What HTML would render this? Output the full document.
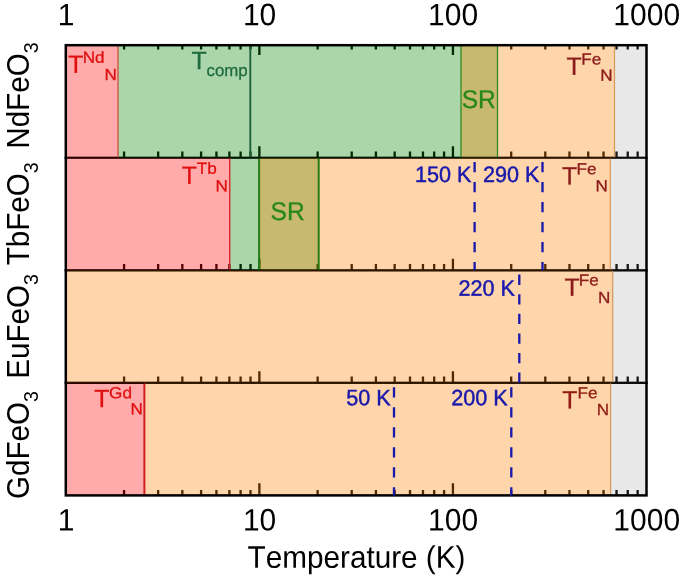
<!DOCTYPE html><html><head><meta charset="utf-8"><title>Phase diagram</title><style>html,body{margin:0;padding:0;background:#fff}svg{display:block}</style></head><body><svg width="685" height="577" viewBox="0 0 685 577" style="font-kerning:none" font-family='"Liberation Sans", Arial, Helvetica, sans-serif'>
<rect width="685" height="577" fill="#fff"/>
<g stroke="#000" stroke-width="2.2" fill="none">
<line x1="64.6" y1="157.75" x2="647.7" y2="157.75"/>
<line x1="64.6" y1="270.30" x2="647.7" y2="270.30"/>
<line x1="64.6" y1="382.85" x2="647.7" y2="382.85"/>
</g>
<path d="M124.07 45.2V49.6M124.07 157.75v-6.3M124.07 270.30v-6.3M124.07 382.85v-6.3M124.07 495.4V490.05M158.15 45.2V49.6M158.15 157.75v-6.3M158.15 270.30v-6.3M158.15 382.85v-6.3M158.15 495.4V490.05M182.34 45.2V49.6M182.34 157.75v-6.3M182.34 270.30v-6.3M182.34 382.85v-6.3M182.34 495.4V490.05M201.10 45.2V49.6M201.10 157.75v-6.3M201.10 270.30v-6.3M201.10 382.85v-6.3M201.10 495.4V490.05M216.42 45.2V49.6M216.42 157.75v-6.3M216.42 270.30v-6.3M216.42 382.85v-6.3M216.42 495.4V490.05M229.38 45.2V49.6M229.38 157.75v-6.3M229.38 270.30v-6.3M229.38 382.85v-6.3M229.38 495.4V490.05M240.61 45.2V49.6M240.61 157.75v-6.3M240.61 270.30v-6.3M240.61 382.85v-6.3M240.61 495.4V490.05M250.51 45.2V49.6M250.51 157.75v-6.3M250.51 270.30v-6.3M250.51 382.85v-6.3M250.51 495.4V490.05M259.37 45.2V55.1M259.37 157.75v-11.6M259.37 270.30v-11.6M259.37 382.85v-11.6M259.37 495.4V483.3M317.64 45.2V49.6M317.64 157.75v-6.3M317.64 270.30v-6.3M317.64 382.85v-6.3M317.64 495.4V490.05M351.72 45.2V49.6M351.72 157.75v-6.3M351.72 270.30v-6.3M351.72 382.85v-6.3M351.72 495.4V490.05M375.91 45.2V49.6M375.91 157.75v-6.3M375.91 270.30v-6.3M375.91 382.85v-6.3M375.91 495.4V490.05M394.66 45.2V49.6M394.66 157.75v-6.3M394.66 270.30v-6.3M394.66 382.85v-6.3M394.66 495.4V490.05M409.99 45.2V49.6M409.99 157.75v-6.3M409.99 270.30v-6.3M409.99 382.85v-6.3M409.99 495.4V490.05M422.95 45.2V49.6M422.95 157.75v-6.3M422.95 270.30v-6.3M422.95 382.85v-6.3M422.95 495.4V490.05M434.17 45.2V49.6M434.17 157.75v-6.3M434.17 270.30v-6.3M434.17 382.85v-6.3M434.17 495.4V490.05M444.08 45.2V49.6M444.08 157.75v-6.3M444.08 270.30v-6.3M444.08 382.85v-6.3M444.08 495.4V490.05M452.93 45.2V55.1M452.93 157.75v-11.6M452.93 270.30v-11.6M452.93 382.85v-11.6M452.93 495.4V483.3M511.20 45.2V49.6M511.20 157.75v-6.3M511.20 270.30v-6.3M511.20 382.85v-6.3M511.20 495.4V490.05M545.29 45.2V49.6M545.29 157.75v-6.3M545.29 270.30v-6.3M545.29 382.85v-6.3M545.29 495.4V490.05M569.47 45.2V49.6M569.47 157.75v-6.3M569.47 270.30v-6.3M569.47 382.85v-6.3M569.47 495.4V490.05M588.23 45.2V49.6M588.23 157.75v-6.3M588.23 270.30v-6.3M588.23 382.85v-6.3M588.23 495.4V490.05M603.56 45.2V49.6M603.56 157.75v-6.3M603.56 270.30v-6.3M603.56 382.85v-6.3M603.56 495.4V490.05M616.52 45.2V49.6M616.52 157.75v-6.3M616.52 270.30v-6.3M616.52 382.85v-6.3M616.52 495.4V490.05M627.74 45.2V49.6M627.74 157.75v-6.3M627.74 270.30v-6.3M627.74 382.85v-6.3M627.74 495.4V490.05M637.64 45.2V49.6M637.64 157.75v-6.3M637.64 270.30v-6.3M637.64 382.85v-6.3M637.64 495.4V490.05" stroke="#000" stroke-width="2.3" fill="none"/>
<rect shape-rendering="crispEdges" x="66" y="45" width="52" height="113" fill="rgba(255,0,0,0.33)"/>
<rect shape-rendering="crispEdges" x="118" y="45" width="343" height="113" fill="rgba(0,128,0,0.33)"/>
<rect shape-rendering="crispEdges" x="461" y="45" width="37" height="113" fill="rgba(157,130,0,0.56)"/>
<rect shape-rendering="crispEdges" x="498" y="45" width="117" height="113" fill="rgba(255,128,0,0.33)"/>
<rect shape-rendering="crispEdges" x="615" y="45" width="31" height="113" fill="rgba(128,128,128,0.18)"/>
<rect shape-rendering="crispEdges" x="66" y="158" width="164" height="112" fill="rgba(255,0,0,0.33)"/>
<rect shape-rendering="crispEdges" x="230" y="158" width="29" height="112" fill="rgba(0,128,0,0.33)"/>
<rect shape-rendering="crispEdges" x="259" y="158" width="60" height="112" fill="rgba(157,130,0,0.56)"/>
<rect shape-rendering="crispEdges" x="319" y="158" width="291" height="112" fill="rgba(255,128,0,0.33)"/>
<rect shape-rendering="crispEdges" x="610" y="158" width="36" height="112" fill="rgba(128,128,128,0.18)"/>
<rect shape-rendering="crispEdges" x="66" y="270" width="547" height="113" fill="rgba(255,128,0,0.33)"/>
<rect shape-rendering="crispEdges" x="613" y="270" width="33" height="113" fill="rgba(128,128,128,0.18)"/>
<rect shape-rendering="crispEdges" x="66" y="383" width="78" height="112" fill="rgba(255,0,0,0.33)"/>
<rect shape-rendering="crispEdges" x="144" y="383" width="467" height="112" fill="rgba(255,128,0,0.33)"/>
<rect shape-rendering="crispEdges" x="611" y="383" width="35" height="112" fill="rgba(128,128,128,0.18)"/>
<line x1="118.00" y1="45.20" x2="118.00" y2="157.75" stroke="#c8503c" stroke-width="1.3" />
<line x1="250.30" y1="45.20" x2="250.30" y2="157.75" stroke="#1f5f3a" stroke-width="1.9" />
<line x1="461.00" y1="45.20" x2="461.00" y2="157.75" stroke="#2f8a1f" stroke-width="1.3" />
<line x1="497.50" y1="45.20" x2="497.50" y2="157.75" stroke="#2f8a1f" stroke-width="1.3" />
<line x1="614.50" y1="45.20" x2="614.50" y2="157.75" stroke="#d8985a" stroke-width="1.2" />
<line x1="229.70" y1="157.75" x2="229.70" y2="270.30" stroke="#d83030" stroke-width="1.5" />
<line x1="259.10" y1="157.75" x2="259.10" y2="270.30" stroke="#237d14" stroke-width="2" />
<line x1="318.70" y1="157.75" x2="318.70" y2="270.30" stroke="#237d14" stroke-width="2" />
<line x1="610.30" y1="157.75" x2="610.30" y2="270.30" stroke="#d8985a" stroke-width="1.2" />
<line x1="612.70" y1="270.30" x2="612.70" y2="382.85" stroke="#d8985a" stroke-width="1.2" />
<line x1="144.40" y1="382.85" x2="144.40" y2="495.40" stroke="#d02020" stroke-width="2" />
<line x1="610.60" y1="382.85" x2="610.60" y2="495.40" stroke="#d8985a" stroke-width="1.2" />
<g stroke="rgba(0,0,0,0.5)" stroke-width="2" fill="none">
<line x1="65.8" y1="157.75" x2="646.5" y2="157.75"/>
<line x1="65.8" y1="270.30" x2="646.5" y2="270.30"/>
<line x1="65.8" y1="382.85" x2="646.5" y2="382.85"/>
</g>
<rect x="65.8" y="45.2" width="580.7" height="450.2" stroke="#000" stroke-width="2.5" fill="none"/>
<line x1="474.60" y1="162.00" x2="474.60" y2="270.30" stroke="#1818ac" stroke-width="2.3" stroke-dasharray="10.3 9.7"/>
<line x1="542.50" y1="162.00" x2="542.50" y2="270.30" stroke="#1818ac" stroke-width="2.3" stroke-dasharray="10.3 9.7"/>
<line x1="519.30" y1="274.60" x2="519.30" y2="382.85" stroke="#1818ac" stroke-width="2.3" stroke-dasharray="10.3 9.3"/>
<line x1="394.00" y1="387.20" x2="394.00" y2="495.40" stroke="#1818ac" stroke-width="2.3" stroke-dasharray="10.3 9.7"/>
<line x1="511.30" y1="387.20" x2="511.30" y2="495.40" stroke="#1818ac" stroke-width="2.3" stroke-dasharray="10.3 9.7"/>
<g fill="#e01010" stroke="#e01010" stroke-width="0.3"><text font-size="24.8" transform="translate(68.20 72.80) rotate(0.03) scale(1.001 1)">T</text><text font-size="16.0" transform="translate(82.70 62.70) rotate(0.03) scale(1.07 1)">Nd</text><text font-size="16.0" transform="translate(104.60 80.00) rotate(0.03) scale(1.07 1)">N</text></g>
<g fill="#8b1a1a" stroke="#8b1a1a" stroke-width="0.3"><text font-size="24.8" transform="translate(566.50 74.70) rotate(0.03) scale(1.001 1)">T</text><text font-size="16.0" transform="translate(581.20 64.40) rotate(0.03) scale(1.07 1)">Fe</text><text font-size="16.0" transform="translate(600.30 80.70) rotate(0.03) scale(1.07 1)">N</text></g>
<g fill="#e01010" stroke="#e01010" stroke-width="0.3"><text font-size="24.8" transform="translate(181.80 183.80) rotate(0.03) scale(1.001 1)">T</text><text font-size="16.0" transform="translate(196.85 173.80) rotate(0.03) scale(1.07 1)">Tb</text><text font-size="16.0" transform="translate(215.60 191.30) rotate(0.03) scale(1.07 1)">N</text></g>
<g fill="#8b1a1a" stroke="#8b1a1a" stroke-width="0.3"><text font-size="24.8" transform="translate(562.00 184.20) rotate(0.03) scale(1.001 1)">T</text><text font-size="16.0" transform="translate(576.60 174.20) rotate(0.03) scale(1.07 1)">Fe</text><text font-size="16.0" transform="translate(595.60 191.30) rotate(0.03) scale(1.07 1)">N</text></g>
<g fill="#8b1a1a" stroke="#8b1a1a" stroke-width="0.3"><text font-size="24.8" transform="translate(564.40 295.80) rotate(0.03) scale(1.001 1)">T</text><text font-size="16.0" transform="translate(578.70 285.60) rotate(0.03) scale(1.07 1)">Fe</text><text font-size="16.0" transform="translate(597.90 302.90) rotate(0.03) scale(1.07 1)">N</text></g>
<g fill="#e01010" stroke="#e01010" stroke-width="0.3"><text font-size="24.8" transform="translate(94.20 407.10) rotate(0.03) scale(1.001 1)">T</text><text font-size="16.0" transform="translate(109.10 398.30) rotate(0.03) scale(1.07 1)">Gd</text><text font-size="16.0" transform="translate(130.50 414.20) rotate(0.03) scale(1.07 1)">N</text></g>
<g fill="#8f1d14" stroke="#8f1d14" stroke-width="0.3"><text font-size="24.8" transform="translate(562.20 408.20) rotate(0.03) scale(1.001 1)">T</text><text font-size="16.0" transform="translate(577.50 398.20) rotate(0.03) scale(1.07 1)">Fe</text><text font-size="16.0" transform="translate(596.80 415.10) rotate(0.03) scale(1.07 1)">N</text></g>
<g fill="#1f6b40" stroke="#1f6b40" stroke-width="0.3"><text font-size="24.8" transform="translate(191.60 69.10) rotate(0.03) scale(1.001 1)">T</text><text font-size="16.8" transform="translate(206.60 76.10) rotate(0.03) scale(1.001 1)">comp</text></g>
<text fill="#28871a" stroke="#28871a" stroke-width="0.3" font-size="24.6" transform="translate(461.7 108) rotate(0.03) scale(1 1.04)">SR</text>
<text fill="#28871a" stroke="#28871a" stroke-width="0.3" font-size="24.6" transform="translate(270.5 220) rotate(0.03) scale(1 1.04)">SR</text>
<text fill="#1818ac" stroke="#1818ac" stroke-width="0.45" font-size="21.6" transform="translate(415.0 181.9) rotate(0.03) scale(1 1.03)">150 K</text>
<text fill="#1818ac" stroke="#1818ac" stroke-width="0.45" font-size="21.6" transform="translate(483.0 181.9) rotate(0.03) scale(1 1.03)">290 K</text>
<text fill="#1818ac" stroke="#1818ac" stroke-width="0.45" font-size="21.6" transform="translate(458.5 295.8) rotate(0.03) scale(1 1.03)">220 K</text>
<text fill="#1818ac" stroke="#1818ac" stroke-width="0.45" font-size="21.6" transform="translate(346.2 405.2) rotate(0.03) scale(1 1.03)">50 K</text>
<text fill="#1818ac" stroke="#1818ac" stroke-width="0.45" font-size="21.6" transform="translate(451.3 405.2) rotate(0.03) scale(1 1.03)">200 K</text>
<text font-size="30" text-anchor="middle" transform="translate(66.0 25.2) rotate(0.03) scale(1 1.035)">1</text>
<text font-size="30" text-anchor="middle" transform="translate(66.0 530.4) rotate(0.03) scale(1 1.035)">1</text>
<text font-size="30" text-anchor="middle" transform="translate(259.6 25.2) rotate(0.03) scale(1 1.035)">10</text>
<text font-size="30" text-anchor="middle" transform="translate(259.6 530.4) rotate(0.03) scale(1 1.035)">10</text>
<text font-size="30" text-anchor="middle" transform="translate(453.1 25.2) rotate(0.03) scale(1 1.035)">100</text>
<text font-size="30" text-anchor="middle" transform="translate(453.1 530.4) rotate(0.03) scale(1 1.035)">100</text>
<text font-size="30" text-anchor="middle" transform="translate(646.7 25.2) rotate(0.03) scale(1 1.035)">1000</text>
<text font-size="30" text-anchor="middle" transform="translate(646.7 530.4) rotate(0.03) scale(1 1.035)">1000</text>
<text font-size="29.7" transform="translate(247.6 567.7) rotate(0.03) scale(1 1.05)">Temperature (K)</text>
<text font-size="29.6" transform="translate(29.2 499.0) rotate(-90) scale(1 1.03)">GdFeO<tspan font-size="19.7" dy="8.5">3</tspan></text>
<text font-size="29.6" transform="translate(29.2 378.8) rotate(-90) scale(1 1.03)">EuFeO<tspan font-size="19.7" dy="8.5">3</tspan></text>
<text font-size="29.6" transform="translate(29.2 265.3) rotate(-90) scale(1 1.03)">TbFeO<tspan font-size="19.7" dy="8.5">3</tspan></text>
<text font-size="29.6" transform="translate(29.2 148.7) rotate(-90) scale(1 1.03)">NdFeO<tspan font-size="19.7" dy="8.5">3</tspan></text>
</svg></body></html>
